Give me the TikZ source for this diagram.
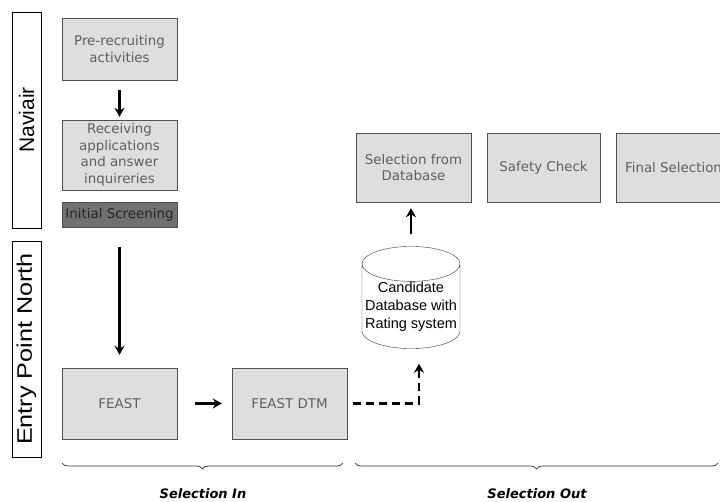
\documentclass[tikz,border=0pt]{standalone}
\usepackage{fontspec}
\usepackage{xcolor}
\usetikzlibrary{shapes.geometric, arrows.meta, decorations.pathreplacing, calc}
\newfontfamily\verdanafont{DejaVu Sans}
\newfontfamily\arialfont{Liberation Sans}
\newfontfamily\widearialfont[FakeStretch=1.2]{Liberation Sans}
\newcommand{\stagefont}{\verdanafont\fontsize{13.4}{16.6}\selectfont}
\newcommand{\bandfont}{\arialfont\fontsize{21}{24}\selectfont}
\newcommand{\phasefont}{\verdanafont\bfseries\itshape\fontsize{13}{15}\selectfont}
\definecolor{boxfill}{RGB}{222,222,222}
\definecolor{boxline}{RGB}{80,80,80}
\definecolor{boxtext}{RGB}{95,95,95}
\definecolor{darkfill}{RGB}{112,112,112}
\tikzset{
  stage/.style={draw=boxline, fill=boxfill, text=boxtext, font=\stagefont, align=center, minimum width=115pt, minimum height=70pt, inner sep=1pt},
  band/.style={draw=black, line width=0.9pt, rotate=90, minimum height=29pt, inner sep=0pt, text=black, font=\bandfont},
  flow/.style={line width=2.4pt, -{Stealth[length=9pt,width=10pt]}},
  brace/.style={decorate, decoration={brace, amplitude=6pt, mirror}, line width=0.7pt, draw=black!80},
  phase/.style={font=\phasefont}
}

\begin{document}
\begin{tikzpicture}[x=1pt, y=-1pt]
    \useasboundingbox (0,0) rectangle (720,502);

    % Organisations
    \node[band, minimum width=216pt] (naviair) at (26.5,120) {Naviair};
    \node[band, minimum width=216pt, font=\widearialfont\fontsize{21}{24}\selectfont] (epn) at (26.5,349) {Entry Point North};

    % Selection in
    \node[stage, minimum height=62pt] (pre) at (119.5,49) {Pre-recruiting\\activities};
    \node[stage] (recv) at (119.5,155) {Receiving\\applications\\and answer\\inquireries};
    \node[stage, minimum height=25pt, fill=darkfill, text=black!85] (screen) at (119.5,214.5) {Initial Screening};
    \node[stage, minimum height=71pt] (feast) at (119.5,403.5) {FEAST};
    \node[stage, minimum height=71pt] (dtm) at (289.5,403.5) {FEAST DTM};

    % Selection out
    \node[cylinder, shape border rotate=90, draw=black!80, aspect=0.38, minimum width=98pt, minimum height=91pt, inner sep=0pt, anchor=shape center, align=center, font=\arialfont\fontsize{14.5}{18}\selectfont] (db) at (411,297.5) {Candidate\\Database with\\Rating system};
    \node[stage, minimum height=69pt] (seldb) at (413.5,167.5) {Selection from\\Database};
    \node[stage, minimum height=69pt, minimum width=113pt] (safety) at (543.5,167.5) {Safety Check};
    \node[stage, minimum height=69pt] (final) at (673.5,167.5) {Final Selection};

    % Flow
    \draw[flow, shorten <=10pt, shorten >=3pt] (pre) -- (recv);
    \draw[flow, shorten <=20pt, shorten >=13pt] (screen) -- (feast);
    \draw[flow, shorten <=18pt, shorten >=10pt] (feast) -- (dtm);
    \draw[flow, dash pattern=on 8pt off 5pt, shorten <=6pt, shorten >=15pt] (dtm.east) -| ($(db.south)+(8,0)$);
    \draw[flow, shorten <=12pt, shorten >=6pt] (db.north) -- (db.north |- seldb.south);

    % Phases
    \draw[brace] (62,463) -- (343,463) coordinate[midway] (inmid);
    \draw[brace] (355,463) -- (718,463) coordinate[midway] (outmid);
    \node[phase] (selin) at (203,494) {Selection In};
    \node[phase] (selout) at (537,494) {Selection Out};
\end{tikzpicture}
\end{document}
